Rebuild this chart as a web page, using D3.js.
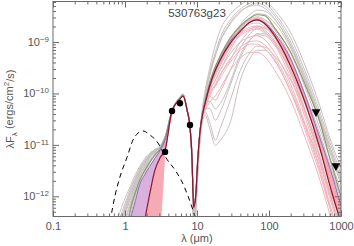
<!DOCTYPE html>
<html>
<head>
<meta charset="utf-8">
<script src="https://cdn.jsdelivr.net/npm/d3@7"></script>
<style>
  body { margin: 0; background: #fff; }
  svg { display: block; }
  text { font-family: "Liberation Sans", Arial, sans-serif; }
</style>
</head>
<body>
<div id="chart"></div>
<script>
// wavelength grid (micron) shared by all model SEDs
const wave = [0.8, 1.0, 1.2, 1.4, 1.6, 1.9, 2.2, 2.6, 3.1, 3.6, 4.5, 5.8, 6.4, 7.3, 8.0, 8.5, 9.0, 9.6, 10.2, 11,
  12, 13, 15, 18, 21, 29, 40, 55, 68, 88, 120, 200, 320, 510, 700, 1000];

// model SEDs, log10 of lambda F_lambda (ergs/cm2/s)
const bestFit = [-13, -13, -13, -13, -13, -12.43, -11.96, -11.49, -11.24, -11.10, -10.34, -10.11, -10.05, -10.33, -10.66, -11.22, -12.22, -12.00, -11.34, -10.75,
  -10.40, -10.19, -9.86, -9.55, -9.35, -9.02, -8.79, -8.61, -8.57, -8.65, -8.88, -9.47, -10.19, -11.07, -11.79, -12.51];
const secondFit = [-13, -12.9, -12.23, -11.92, -11.69, -11.49, -11.34, -11.20, -11.07, -10.87, -10.34, -10.09, -10.03, -10.33, -10.66, -11.20, -12.18, -11.96, -11.30, -10.72,
  -10.36, -10.13, -9.78, -9.47, -9.27, -8.92, -8.69, -8.53, -8.47, -8.49, -8.73, -9.20, -9.84, -10.56, -11.26, -12.00];
const thirdFit = [-13, -13, -12.43, -12.08, -11.77, -11.57, -11.42, -11.26, -11.10, -10.91, -10.34, -10.11, -10.05, -10.33, -10.66, -11.22, -12.20, -11.98, -11.32, -10.73,
  -10.38, -10.17, -9.84, -9.53, -9.33, -8.98, -8.77, -8.61, -8.57, -8.63, -8.83, -9.33, -10.05, -10.87, -11.45, -12.18];

const grayModels = [
  [-12.41, -12.04, -11.79, -11.57, -11.42, -11.26, -11.16, -11.09, -11.01, -10.83, -10.33, -10.07, -10.01, -10.33, -10.64, -11.14, -12.27, -12.08, -11.40, -10.75,
    -10.25, -9.94, -9.51, -9.06, -8.77, -8.46, -8.28, -8.18, -8.14, -8.20, -8.38, -8.82, -9.47, -10.25, -10.87, -11.45],
  [-12.70, -12.27, -11.92, -11.69, -11.49, -11.32, -11.20, -11.10, -11.03, -10.85, -10.34, -10.09, -10.03, -10.33, -10.66, -11.18, -12.37, -12.18, -11.46, -10.79,
    -10.33, -10.05, -9.66, -9.27, -9.00, -8.65, -8.42, -8.28, -8.24, -8.30, -8.49, -9.00, -9.66, -10.44, -11.03, -11.65],
  [-13, -12.51, -12.14, -11.84, -11.61, -11.40, -11.24, -11.12, -11.03, -10.87, -10.34, -10.09, -10.03, -10.34, -10.66, -11.20, -12.47, -12.27, -11.49, -10.81,
    -10.42, -10.23, -9.94, -9.74, -9.55, -9.16, -8.83, -8.61, -8.53, -8.57, -8.73, -9.22, -9.90, -10.68, -11.26, -11.88],
  [-13, -12.70, -12.27, -11.94, -11.69, -11.45, -11.30, -11.16, -11.05, -10.87, -10.34, -10.09, -10.03, -10.34, -10.68, -11.22, -12.51, -12.31, -11.59, -10.91,
    -10.48, -10.36, -10.56, -10.91, -10.68, -10.13, -9.55, -9.20, -9.08, -9.10, -9.27, -9.74, -10.36, -11.10, -11.65, -12.27],
  [-13, -12.37, -12.04, -11.77, -11.55, -11.36, -11.22, -11.12, -11.03, -10.85, -10.34, -10.09, -10.03, -10.34, -10.66, -11.20, -12.57, -12.37, -11.65, -10.95,
    -10.52, -10.42, -10.68, -11.01, -10.91, -10.56, -9.74, -9.31, -9.16, -9.16, -9.35, -9.97, -10.62, -11.34, -11.88, -12.51],
  [-12.51, -12.14, -11.84, -11.63, -11.45, -11.30, -11.18, -11.10, -11.03, -10.85, -10.33, -10.07, -10.03, -10.33, -10.66, -11.16, -12.31, -12.12, -11.42, -10.77,
    -10.38, -10.19, -10.05, -10.13, -9.97, -9.55, -9.12, -8.84, -8.73, -8.73, -8.88, -9.35, -10.03, -10.79, -11.38, -12.00],
  [-13, -13, -12.37, -12.00, -11.73, -11.49, -11.32, -11.18, -11.07, -10.89, -10.34, -10.09, -10.03, -10.34, -10.68, -11.22, -12.43, -12.23, -11.53, -10.87,
    -10.44, -10.29, -10.29, -10.52, -10.36, -9.84, -9.31, -8.96, -8.84, -8.84, -9.00, -9.47, -10.13, -10.87, -11.43, -12.06],
  [-12.59, -12.20, -11.88, -11.65, -11.47, -11.30, -11.18, -11.10, -11.03, -10.85, -10.33, -10.07, -10.01, -10.33, -10.64, -11.16, -12.31, -12.12, -11.42, -10.75,
    -10.29, -9.99, -9.58, -9.20, -8.92, -8.57, -8.36, -8.24, -8.20, -8.24, -8.44, -8.92, -9.58, -10.36, -10.95, -11.57],
  [-13, -12.62, -12.20, -11.88, -11.63, -11.42, -11.26, -11.14, -11.05, -10.87, -10.34, -10.09, -10.03, -10.34, -10.66, -11.20, -12.39, -12.20, -11.47, -10.83,
    -10.40, -10.21, -9.90, -9.66, -9.47, -9.08, -8.73, -8.53, -8.45, -8.47, -8.63, -9.12, -9.78, -10.56, -11.14, -11.77],
  [-12.78, -12.31, -12.00, -11.75, -11.53, -11.34, -11.20, -11.10, -11.03, -10.85, -10.34, -10.09, -10.03, -10.33, -10.66, -11.18, -12.35, -12.16, -11.46, -10.81,
    -10.36, -10.17, -9.97, -9.84, -9.64, -9.35, -9.00, -8.77, -8.69, -8.73, -8.92, -9.47, -10.17, -10.95, -11.53, -12.16],
  [-12.65, -12.25, -11.95, -11.71, -11.52, -11.34, -11.21, -11.11, -11.04, -10.86, -10.34, -10.09, -10.03, -10.34, -10.66, -11.20, -12.40, -12.20, -11.48, -10.82,
    -10.30, -10.02, -9.62, -9.25, -8.98, -8.62, -8.40, -8.30, -8.28, -8.35, -8.55, -9.08, -9.75, -10.52, -11.10, -11.72],
  [-13, -12.45, -12.10, -11.82, -11.60, -11.39, -11.24, -11.13, -11.05, -10.87, -10.34, -10.09, -10.03, -10.34, -10.66, -11.20, -12.40, -12.20, -11.48, -10.82,
    -10.34, -10.12, -9.85, -9.60, -9.38, -9.00, -8.66, -8.46, -8.38, -8.40, -8.56, -9.05, -9.72, -10.48, -11.06, -11.68],
  [-13, -12.90, -12.45, -12.10, -11.80, -11.55, -11.36, -11.21, -11.09, -10.90, -10.34, -10.09, -10.03, -10.34, -10.66, -11.20, -12.40, -12.20, -11.48, -10.82,
    -10.40, -10.25, -10.15, -10.30, -10.20, -9.78, -9.25, -8.95, -8.86, -8.88, -9.05, -9.55, -10.22, -10.98, -11.55, -12.18]
];

const pinkModels = [
  [-13, -13, -13, -13, -12.57, -12.18, -11.79, -11.45, -11.20, -11.01, -10.36, -10.11, -10.05, -10.33, -10.66, -11.24, -12.18, -12.00, -11.34, -10.75,
    -10.38, -10.17, -9.84, -9.55, -9.35, -9.00, -8.77, -8.65, -8.63, -8.71, -8.92, -9.55, -10.33, -11.22, -11.92, -12.62],
  [-13, -13, -13, -13, -13, -12.57, -12.08, -11.65, -11.30, -11.07, -10.36, -10.11, -10.05, -10.33, -10.66, -11.24, -12.20, -12.02, -11.36, -10.77,
    -10.40, -10.21, -9.90, -9.62, -9.43, -9.10, -8.88, -8.77, -8.75, -8.83, -9.06, -9.70, -10.48, -11.36, -12.04, -12.76],
  [-13, -13, -13, -13, -13, -13, -12.37, -11.84, -11.40, -11.12, -10.36, -10.11, -10.05, -10.33, -10.66, -11.24, -12.22, -12.04, -11.38, -10.79,
    -10.42, -10.25, -9.97, -9.74, -9.55, -9.23, -9.00, -8.90, -8.88, -8.96, -9.20, -9.82, -10.60, -11.45, -12.16, -12.86],
  [-13, -13, -13, -12.57, -12.18, -11.79, -11.53, -11.34, -11.16, -10.97, -10.34, -10.09, -10.05, -10.33, -10.66, -11.22, -12.20, -12.00, -11.34, -10.75,
    -10.36, -10.15, -9.82, -9.51, -9.29, -8.92, -8.69, -8.55, -8.51, -8.57, -8.77, -9.31, -10.05, -10.91, -11.53, -12.27],
  [-13, -13, -13, -13, -13, -13, -13, -13, -12.50, -11.14, -10.36, -10.11, -10.05, -10.33, -10.66, -11.24, -12.23, -12.06, -11.40, -10.81,
    -10.48, -10.33, -10.17, -10.05, -9.90, -9.55, -9.31, -9.20, -9.20, -9.29, -9.55, -10.13, -10.87, -11.69, -12.35, -13.05],
  [-13, -13, -13, -13, -13, -12.37, -11.92, -11.57, -11.26, -11.05, -10.36, -10.11, -10.05, -10.33, -10.66, -11.24, -12.22, -12.04, -11.38, -10.79,
    -10.44, -10.29, -10.05, -9.86, -9.70, -9.39, -9.16, -9.04, -9.04, -9.14, -9.37, -9.97, -10.73, -11.57, -12.23, -12.94],
  [-13, -13, -13, -13, -13, -13, -12.23, -11.73, -11.36, -11.09, -10.36, -10.11, -10.05, -10.33, -10.66, -11.24, -12.20, -12.02, -11.36, -10.77,
    -10.40, -10.19, -9.88, -9.58, -9.39, -9.06, -8.83, -8.71, -8.69, -8.77, -8.98, -9.60, -10.36, -11.26, -11.94, -12.62],
  [-13, -13, -12.66, -12.31, -11.98, -11.69, -11.45, -11.26, -11.12, -10.95, -10.34, -10.09, -10.05, -10.33, -10.66, -11.22, -12.20, -12.00, -11.34, -10.75,
    -10.38, -10.19, -9.86, -9.55, -9.31, -8.96, -8.73, -8.59, -8.55, -8.61, -8.83, -9.43, -10.17, -11.03, -11.69, -12.39],
  [-13, -13, -13, -13, -13, -12.45, -12.05, -11.62, -11.32, -11.08, -10.36, -10.11, -10.05, -10.33, -10.66, -11.24, -12.20, -12.02, -11.36, -10.77,
    -10.39, -10.20, -9.90, -9.60, -9.42, -9.05, -8.85, -8.74, -8.72, -8.80, -9.02, -9.62, -10.40, -11.28, -11.98, -12.68],
  [-13, -13, -13, -13, -13, -13, -12.55, -11.95, -11.45, -11.13, -10.36, -10.11, -10.05, -10.33, -10.66, -11.24, -12.22, -12.04, -11.38, -10.79,
    -10.45, -10.30, -10.02, -9.82, -9.64, -9.32, -9.10, -8.99, -8.98, -9.06, -9.30, -9.90, -10.66, -11.50, -12.20, -12.90],
  [-13, -13, -13, -12.75, -12.30, -11.90, -11.62, -11.40, -11.20, -11.00, -10.34, -10.09, -10.05, -10.33, -10.66, -11.22, -12.20, -12.00, -11.34, -10.75,
    -10.37, -10.16, -9.83, -9.52, -9.31, -8.95, -8.72, -8.57, -8.54, -8.61, -8.83, -9.40, -10.12, -10.98, -11.66, -12.36]
];

// stellar photosphere (dashed)
const photoWave = [0.62, 0.73, 0.85, 1.07, 1.29, 1.52, 1.78, 2.22, 2.87, 3.71, 4.95, 6.2, 7.5, 8.5, 9.4, 10];
const photoFlux = [3.2e-13, 1.06e-12, 2.37e-12, 5.8e-12, 1.24e-11, 1.70e-11, 1.86e-11, 1.56e-11, 1.09e-11, 5.6e-12, 3.25e-12, 1.9e-12, 1.01e-12, 6.2e-13, 4.0e-13, 2.8e-13];

// photometry: detections and upper limits
const detWave = [3.6, 4.5, 5.8, 8.0];
const detFlux = [7.3e-12, 4.56e-11, 6.43e-11, 2.44e-11];
const limWave = [450, 850];
const limFlux = [4.4e-11, 3.9e-12];

const xTicks = [0.1, 1, 10, 100, 1000];
const xTickLabels = ["0.1", "1", "10", "100", "1000"];
const yTicks = [1e-12, 1e-11, 1e-10, 1e-9];

const title = "530763g23";

const W = 354, H = 246;
const margin = { top: 1.5, right: 13, bottom: 29.5, left: 53 };
const x0 = margin.left, x1 = W - margin.right, y0 = H - margin.bottom, y1 = margin.top;

const x = d3.scaleLog().domain([0.1, 1000]).range([x0, x1]);
const y = d3.scaleLog().domain([4.05e-13, 6.13e-9]).range([y0, y1]);

const svg = d3.select("#chart").append("svg").attr("width", W).attr("height", H);

svg.append("clipPath").attr("id", "plot")
  .append("rect").attr("x", x0).attr("y", y1).attr("width", x1 - x0).attr("height", y0 - y1);

const plot = svg.append("g").attr("clip-path", "url(#plot)");

const line = d3.line()
  .x((d, i) => x(wave[i]))
  .y(d => y(Math.pow(10, d)))
  .curve(d3.curveMonotoneX);

const band = (upper, lower, from, to) => d3.area()
  .defined((d, i) => i >= from && i <= to)
  .x(d => x(d))
  .y0((d, i) => y(Math.pow(10, lower[i])))
  .y1((d, i) => y(Math.pow(10, upper[i])))
  .curve(d3.curveMonotoneX)(wave);

// gray models
plot.append("g").selectAll("path").data(grayModels).enter().append("path")
  .attr("d", line).attr("fill", "none").attr("stroke", "#c9c0c0").attr("stroke-width", 1);

// pink models
plot.append("g").selectAll("path").data(pinkModels).enter().append("path")
  .attr("d", line).attr("fill", "none").attr("stroke", "#f2b2ba").attr("stroke-width", 1);

// shaded regions where the good fits crowd together
plot.append("path").attr("d", band(bestFit, pinkModels[4], 5, 9)).attr("fill", "#f6aab4");
plot.append("path").attr("d", band(thirdFit, bestFit, 2, 9)).attr("fill", "#dab0dc");
plot.append("path").attr("d", band(thirdFit, bestFit, 29, 35)).attr("fill", "#f4a8b4");

plot.append("path").attr("d", line(secondFit)).attr("fill", "none").attr("stroke", "#8f9a6e").attr("stroke-width", 1.2);
plot.append("path").attr("d", line(thirdFit)).attr("fill", "none").attr("stroke", "#8a70c4").attr("stroke-width", 1);
plot.append("path").attr("d", line(bestFit)).attr("fill", "none").attr("stroke", "#8c1628").attr("stroke-width", 1.2);

// photosphere
plot.append("path")
  .datum(photoWave)
  .attr("d", d3.line().x(d => x(d)).y((d, i) => y(photoFlux[i])).curve(d3.curveMonotoneX))
  .attr("fill", "none").attr("stroke", "#000").attr("stroke-width", 1).attr("stroke-dasharray", "5,4");

// detections
svg.append("g").selectAll("circle").data(detWave).enter().append("circle")
  .attr("cx", d => x(d)).attr("cy", (d, i) => y(detFlux[i])).attr("r", 3.2).attr("fill", "#000");

// upper limits
svg.append("g").selectAll("path").data(limWave).enter().append("path")
  .attr("d", d3.symbol(d3.symbolTriangle, 34))
  .attr("transform", (d, i) => `translate(${x(d)},${y(limFlux[i])}) rotate(180)`)
  .attr("fill", "#000");

// axes
const minorX = x.ticks().filter(d => !xTicks.some(t => Math.abs(t - d) / t < 1e-6));
const minorY = y.ticks().filter(d => !yTicks.some(t => Math.abs(t - d) / t < 1e-6));
const axisColor = "#6a6a6a";

const axes = svg.append("g").attr("color", axisColor);
axes.append("g").attr("transform", `translate(0,${y0})`)
  .call(d3.axisBottom(x).tickValues(minorX).tickSize(-3).tickFormat(""));
axes.append("g").attr("transform", `translate(0,${y1})`)
  .call(d3.axisTop(x).tickValues(minorX).tickSize(-3).tickFormat(""));
axes.append("g").attr("transform", `translate(0,${y1})`)
  .call(d3.axisTop(x).tickValues(xTicks).tickSize(-6).tickFormat(""));
axes.append("g").attr("transform", `translate(${x0},0)`)
  .call(d3.axisLeft(y).tickValues(minorY).tickSize(-3).tickFormat(""));
axes.append("g").attr("transform", `translate(${x1},0)`)
  .call(d3.axisRight(y).tickValues(minorY).tickSize(-3).tickFormat(""));
axes.append("g").attr("transform", `translate(${x1},0)`)
  .call(d3.axisRight(y).tickValues(yTicks).tickSize(-6).tickFormat(""));

axes.append("g").attr("transform", `translate(0,${y0})`)
  .call(d3.axisBottom(x).tickValues(xTicks).tickSize(-6).tickPadding(6).tickFormat((d, i) => xTickLabels[i]))
  .call(g => g.selectAll("text").attr("font-size", "11px").attr("fill", "#555"));

axes.append("g").attr("transform", `translate(${x0},0)`)
  .call(d3.axisLeft(y).tickValues(yTicks).tickSize(-6).tickPadding(4))
  .call(g => g.selectAll(".tick text").each(function (d) {
    const t = d3.select(this).text(null).attr("font-size", "11px").attr("fill", "#555");
    t.append("tspan").text("10");
    t.append("tspan").attr("dy", "-0.5em").attr("font-size", "8px").text("\u2212" + Math.round(-Math.log10(d)));
  }));

axes.selectAll(".domain").remove();

svg.append("rect")
  .attr("x", x0).attr("y", y1).attr("width", x1 - x0).attr("height", y0 - y1)
  .attr("fill", "none").attr("stroke", axisColor).attr("stroke-width", 1);

// labels
svg.append("text")
  .attr("x", (x0 + x1) / 2).attr("y", 17)
  .attr("text-anchor", "middle").attr("font-size", "11.5px").attr("fill", "#444")
  .text(title);

const xTitle = svg.append("text")
  .attr("x", (x0 + x1) / 2).attr("y", 242)
  .attr("text-anchor", "middle").attr("font-size", "11px").attr("fill", "#555");
xTitle.append("tspan").text("\u03bb (\u03bcm)");

const yTitle = svg.append("text")
  .attr("transform", `translate(14,${(y0 + y1) / 2}) rotate(-90)`)
  .attr("text-anchor", "middle").attr("font-size", "11px").attr("fill", "#555");
yTitle.append("tspan").text("\u03bbF");
yTitle.append("tspan").attr("dy", "0.35em").attr("font-size", "8px").text("\u03bb");
yTitle.append("tspan").attr("dy", "-0.35em").text(" (ergs/cm");
yTitle.append("tspan").attr("dy", "-0.5em").attr("font-size", "8px").text("2");
yTitle.append("tspan").attr("dy", "0.5em").text("/s)");
</script>
</body>
</html>
